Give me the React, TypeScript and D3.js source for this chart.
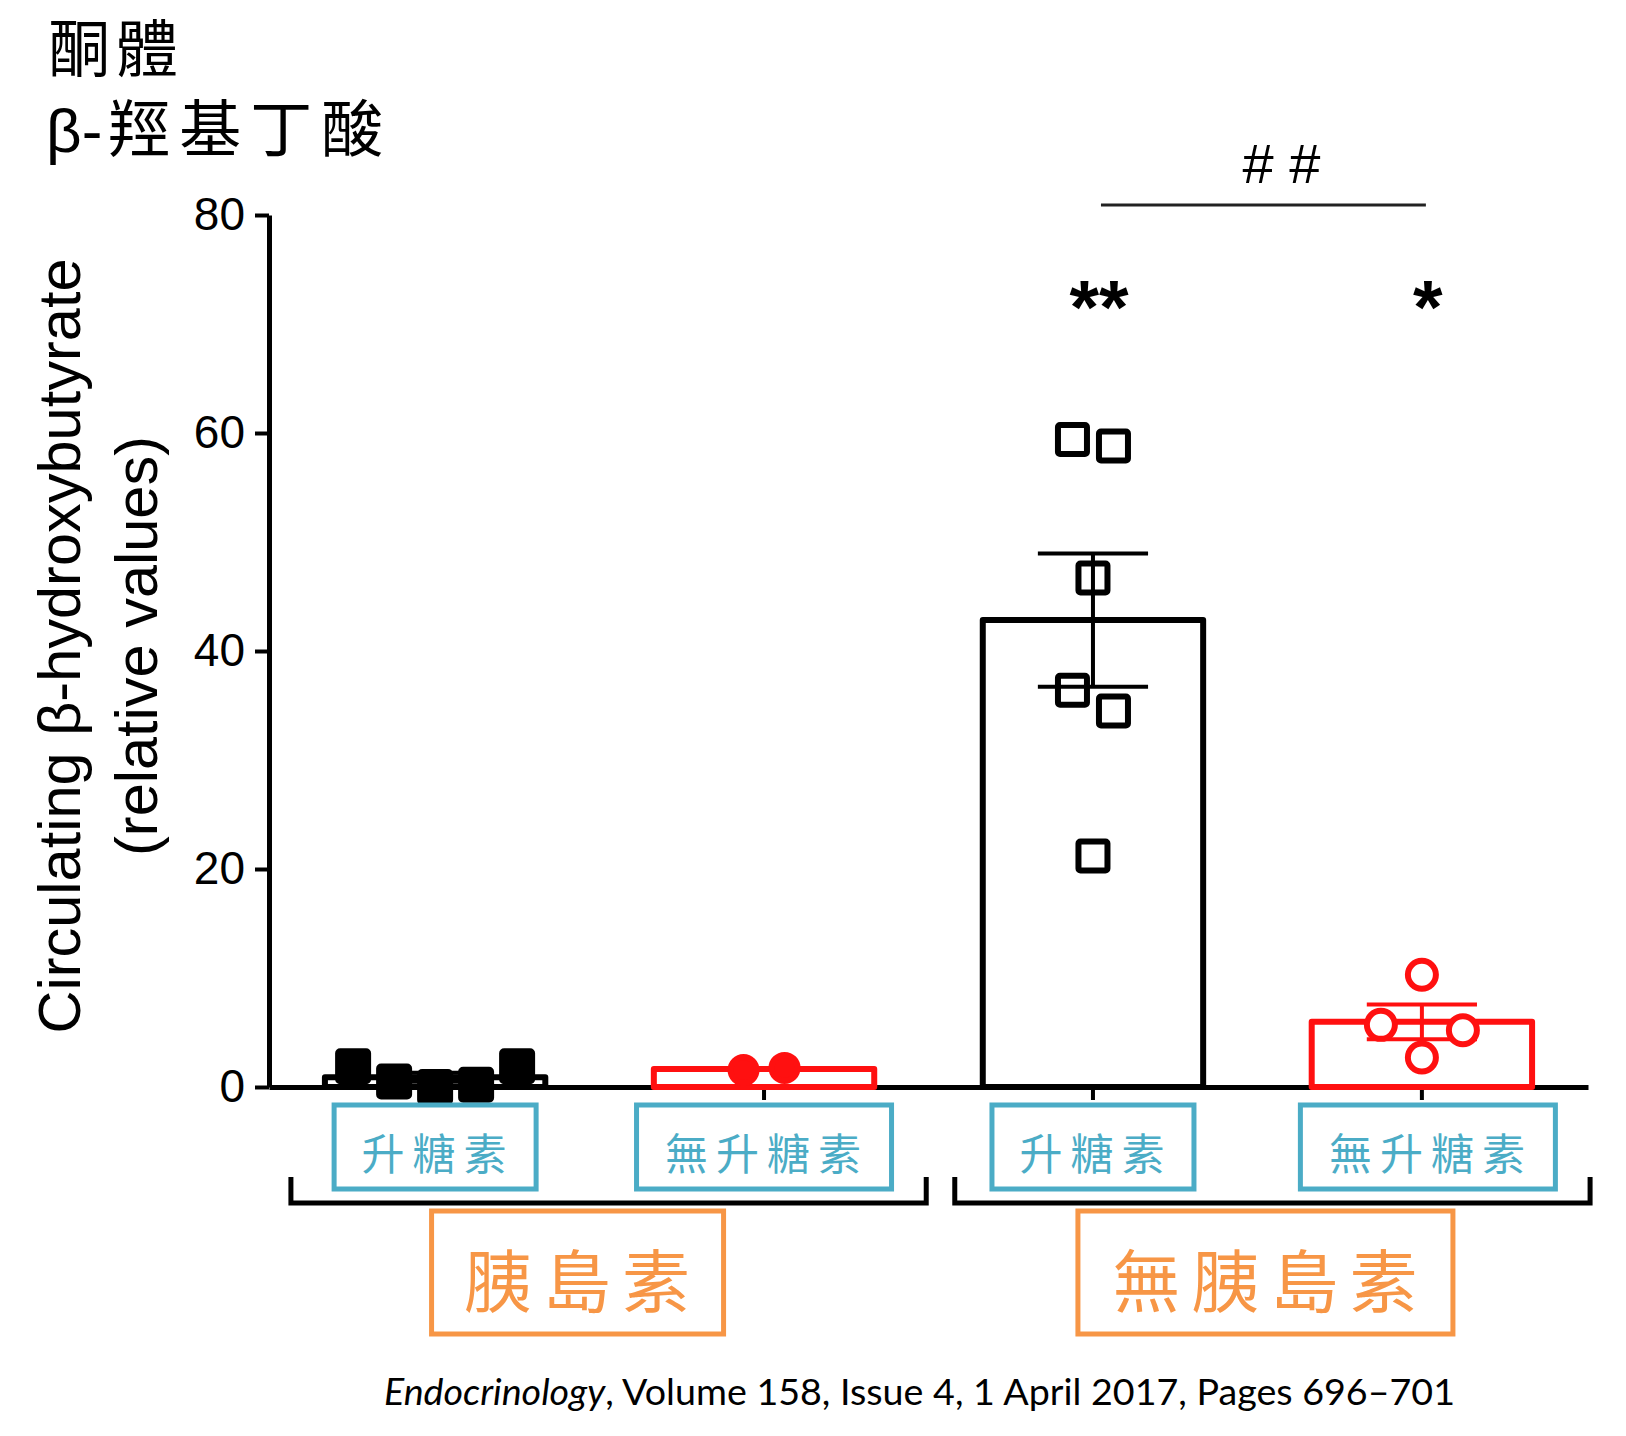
import * as d3 from 'd3';
import { useEffect, useRef } from 'react';

// glucagon groups (bars, left to right) and insulin groups (brackets)
const glucagonLabels = ['升糖素', '無升糖素', '升糖素', '無升糖素'];
const insulinLabels = ['胰島素', '無胰島素'];
const barKeys = ['ins_glu', 'ins_noglu', 'noins_glu', 'noins_noglu'];

// individual animals, relative values
const insGlu = [1.9, 0.5, 0.0, 0.2, 1.9];
const insNoGlu = [1.55, 1.75];
const noInsGlu = [59.4, 58.8, 46.7, 36.4, 34.5, 21.2];
const noInsNoGlu = [10.3, 5.7, 5.2, 2.7];

const yTicks = [0, 20, 40, 60, 80];
const starLabels = ['', '', '**', '*'];
const hashLabel = '# #';

const title1 = '酮體';
const title2Latin = 'β-';
const title2Cjk = '羥基丁酸';
const yLabel1 = 'Circulating β-hydroxybutyrate';
const yLabel2 = '(relative values)';

const RED = '#ff1010';
const BLUE = '#4bacc6';
const ORANGE = '#f79646';
const SANS = '"Liberation Sans", Arial, sans-serif';
const CJK = '"Noto Sans CJK TC", "Noto Sans CJK SC", sans-serif';

export default function App() {
  const ref = useRef<SVGSVGElement | null>(null);

  useEffect(() => {
    if (!ref.current) return;
    const svg = d3.select(ref.current);
    svg.selectAll('*').remove();
    const width = 1626;
    const height = 1436;
    svg.attr('width', width).attr('height', height).attr('viewBox', `0 0 ${width} ${height}`);
    svg.append('rect').attr('width', width).attr('height', height).attr('fill', '#fff');

    const x = d3.scaleBand<string>().domain(barKeys).range([269, 1588]).paddingInner(0.33).paddingOuter(0.17);
    const y = d3.scaleLinear().domain([0, 80]).range([1087, 215]);
    const cx = (i: number) => (x(barKeys[i]) || 0) + x.bandwidth() / 2;

    const series = [
      { pts: insGlu, color: '#000', shape: 'square', filled: true },
      { pts: insNoGlu, color: RED, shape: 'circle', filled: true },
      { pts: noInsGlu, color: '#000', shape: 'square', filled: false },
      { pts: noInsNoGlu, color: RED, shape: 'circle', filled: false },
    ];

    // title
    svg.append('text').attr('x', 48).attr('y', 72).attr('font-family', CJK).attr('font-size', 62)
      .attr('letter-spacing', 6).text(title1);
    const t2 = svg.append('text').attr('x', 46).attr('y', 152).attr('font-size', 62);
    t2.append('tspan').attr('font-family', SANS).text(title2Latin);
    t2.append('tspan').attr('font-family', CJK).attr('dx', 6).attr('letter-spacing', 9).text(title2Cjk);

    // y axis label
    const yl = svg.append('g').attr('font-family', SANS).attr('font-size', 59.5).attr('text-anchor', 'middle');
    yl.append('text').attr('transform', 'translate(80,646) rotate(-90)').text(yLabel1);
    yl.append('text').attr('transform', 'translate(157,646) rotate(-90)').text(yLabel2);

    // axes
    const yAxis = svg.append('g').attr('transform', 'translate(269,0)')
      .call(d3.axisLeft(y).tickValues(yTicks).tickSize(14).tickSizeOuter(0).tickPadding(10));
    const xAxis = svg.append('g').attr('transform', 'translate(0,1087)')
      .call(d3.axisBottom(x).tickSize(13).tickSizeOuter(0).tickFormat(() => ''));
    [yAxis, xAxis].forEach((g) => {
      g.select('.domain').attr('stroke', '#000').attr('stroke-width', 5);
      g.selectAll('.tick line').attr('stroke', '#000').attr('stroke-width', 4);
      g.selectAll('.tick text').attr('font-family', SANS).attr('font-size', 46).attr('fill', '#000');
    });

    const bw = x.bandwidth();
    const rowGap = 24;
    const spread = 41;
    const hitDist = 38;

    series.forEach((s, i) => {
      const mean = d3.mean(s.pts) || 0;
      const sem = (d3.deviation(s.pts) || 0) / Math.sqrt(s.pts.length);
      const c = cx(i);
      const g = svg.append('g');

      g.append('rect').attr('x', c - bw / 2).attr('y', y(mean)).attr('width', bw)
        .attr('height', y(0) - y(mean)).attr('fill', '#fff').attr('stroke', s.color)
        .attr('stroke-width', 6).attr('stroke-linejoin', 'round');

      // error bars
      const eb = g.append('g').attr('stroke', s.color).attr('stroke-width', 4);
      eb.append('line').attr('x1', c).attr('x2', c).attr('y1', y(mean + sem)).attr('y2', y(mean - sem));
      [mean + sem, mean - sem].forEach((v) => {
        eb.append('line').attr('x1', c - bw / 4).attr('x2', c + bw / 4).attr('y1', y(v)).attr('y2', y(v));
      });

      // scatter: group overlapping points into rows, spread each row around the centre
      const order = s.pts.map((v, k) => ({ v, k })).sort((a, b) => a.v - b.v);
      const rows: { v: number; k: number }[][] = [];
      order.forEach((p) => {
        const last = rows[rows.length - 1];
        if (last && Math.abs(y(last[last.length - 1].v) - y(p.v)) < rowGap) last.push(p);
        else rows.push([p]);
      });
      const placed: { px: number; py: number; row: number }[] = [];
      rows.forEach((row, ri) => {
        row.sort((a, b) => a.k - b.k);
        const layout = (step: number) =>
          row.map((p, j) => ({ px: c + (j - (row.length - 1) / 2) * step, py: y(p.v), row: ri }));
        let pos = layout(spread);
        const hits = pos.some((a) => placed.some((b) => Math.hypot(a.px - b.px, a.py - b.py) < hitDist));
        if (hits) pos = layout(spread * 2);
        placed.push(...pos);
      });
      placed.forEach(({ px, py }) => {
        if (s.shape === 'square') {
          const side = s.filled ? 30 : 29;
          g.append('rect').attr('x', px - side / 2).attr('y', py - side / 2).attr('width', side).attr('height', side)
            .attr('rx', 2).attr('fill', s.filled ? s.color : 'none').attr('stroke', s.color).attr('stroke-width', 6);
        } else {
          g.append('circle').attr('cx', px).attr('cy', py).attr('r', s.filled ? 13 : 14)
            .attr('fill', s.filled ? s.color : '#fff').attr('stroke', s.color).attr('stroke-width', 6);
        }
      });

      if (starLabels[i]) {
        svg.append('text').attr('x', c + 6).attr('y', 333).attr('text-anchor', 'middle')
          .attr('font-family', SANS).attr('font-weight', 'bold').attr('font-size', 76).text(starLabels[i]);
      }
    });

    // ## comparison line between the two no-insulin bars
    svg.append('line').attr('x1', cx(2) + 8).attr('x2', cx(3) + 4).attr('y1', 205).attr('y2', 205)
      .attr('stroke', '#222').attr('stroke-width', 3);
    svg.append('text').attr('x', (cx(2) + cx(3)) / 2 + 24).attr('y', 183).attr('text-anchor', 'middle')
      .attr('font-family', SANS).attr('font-size', 56).text(hashLabel);

    // glucagon boxes
    glucagonLabels.forEach((lab, i) => {
      const w = lab.length * 53 + 43;
      const c = cx(i) + (i === 3 ? 6 : 0);
      svg.append('rect').attr('x', c - w / 2).attr('y', 1105).attr('width', w).attr('height', 84)
        .attr('fill', 'none').attr('stroke', BLUE).attr('stroke-width', 5);
      svg.append('text').attr('x', c + 3).attr('y', 1151).attr('text-anchor', 'middle')
        .attr('dominant-baseline', 'central').attr('font-family', CJK).attr('font-size', 43)
        .attr('letter-spacing', 8).attr('fill', BLUE).text(lab);
    });

    // insulin brackets and boxes
    insulinLabels.forEach((lab, gi) => {
      const a = x(barKeys[gi * 2]) || 0;
      const b = (x(barKeys[gi * 2 + 1]) || 0) + bw;
      const x0 = a - 34 + gi * 6;
      const x1 = b + 52 + gi * 6;
      svg.append('path').attr('d', `M${x0},1177 V1203 H${x1} V1177`).attr('fill', 'none')
        .attr('stroke', '#000').attr('stroke-width', 5);
      const w = lab.length * 83 + 43;
      const c = (a + b) / 2 + (gi === 0 ? -22 : 8);
      svg.append('rect').attr('x', c - w / 2).attr('y', 1211).attr('width', w).attr('height', 123)
        .attr('fill', 'none').attr('stroke', ORANGE).attr('stroke-width', 5);
      svg.append('text').attr('x', c + 5).attr('y', 1277).attr('text-anchor', 'middle')
        .attr('dominant-baseline', 'central').attr('font-family', CJK).attr('font-size', 68)
        .attr('letter-spacing', 11).attr('fill', ORANGE).text(lab);
    });

    // citation
    const cite = svg.append('text').attr('x', 384).attr('y', 1405).attr('font-family', 'Lato, sans-serif')
      .attr('font-size', 37).attr('textLength', 1071).attr('lengthAdjust', 'spacingAndGlyphs');
    cite.append('tspan').attr('font-style', 'italic').text('Endocrinology');
    cite.append('tspan').text(', Volume 158, Issue 4, 1 April 2017, Pages 696–701');
  }, []);

  return <svg ref={ref} style={{ position: 'absolute', left: 0, top: 0, display: 'block' }} />;
}
